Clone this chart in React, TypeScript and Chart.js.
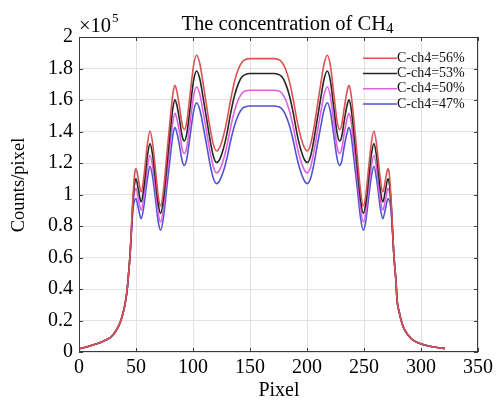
import React, { useEffect, useRef } from "react";
import { Chart, registerables } from "chart.js";

Chart.register(...registerables);

const pixels = [
  0, 8, 17, 24, 28, 32, 36, 38, 40, 42,
  43, 44, 45, 46, 47, 48, 49, 50, 52, 54.5,
  57, 58.5, 60, 62.3, 64.5, 67, 69.5, 71.6, 74, 77,
  80, 82.5, 84.2, 86, 88.3, 90.5, 92.4, 94.5, 97.5, 100.5,
  103.2, 106, 109, 112, 115, 118, 120.7, 123.5, 127, 130,
  133, 136.5, 140, 143, 146, 150,
  160.5,
  171, 175, 178, 181, 184.5, 188, 191, 194, 197.5, 200.3,
  203, 206, 209, 212, 215, 217.8, 220.5, 223.5, 226.5, 228.6,
  230.5, 232.7, 235, 236.8, 238.5, 241, 244, 247, 249.4, 251.5,
  254, 256.5, 258.7, 261, 262.5, 264, 266.5, 269, 271, 272,
  273, 274, 275, 276, 277, 278, 279, 281, 283, 285,
  289, 293, 297, 304, 313, 321,
];

const ch4_56 = [
  0.021, 0.035, 0.055, 0.078, 0.095, 0.13, 0.185, 0.23, 0.29, 0.38,
  0.455, 0.54, 0.64, 0.79, 0.94, 1.06, 1.14, 1.164, 1.10, 1.016,
  1.12, 1.22, 1.32, 1.403, 1.33, 1.165, 0.99, 0.927, 1.02, 1.25,
  1.48, 1.645, 1.693, 1.65, 1.55, 1.445, 1.412, 1.46, 1.64, 1.82,
  1.884, 1.83, 1.70, 1.56, 1.42, 1.315, 1.276, 1.30, 1.38, 1.48,
  1.60, 1.72, 1.80, 1.84, 1.857, 1.863,
  1.863,
  1.863, 1.857, 1.84, 1.80, 1.72, 1.60, 1.48, 1.38, 1.30, 1.276,
  1.315, 1.42, 1.56, 1.70, 1.83, 1.884, 1.82, 1.64, 1.46, 1.412,
  1.445, 1.55, 1.65, 1.693, 1.645, 1.48, 1.25, 1.02, 0.927, 0.99,
  1.165, 1.33, 1.403, 1.32, 1.22, 1.12, 1.016, 1.10, 1.164, 1.14,
  1.06, 0.94, 0.79, 0.64, 0.54, 0.455, 0.33, 0.25, 0.19, 0.15,
  0.105, 0.075, 0.06, 0.043, 0.03, 0.022,
];

const ch4_53 = [
  0.021, 0.035, 0.055, 0.078, 0.095, 0.13, 0.185, 0.23, 0.29, 0.38,
  0.455, 0.54, 0.64, 0.78, 0.92, 1.02, 1.08, 1.10, 1.035, 0.952,
  1.05, 1.15, 1.245, 1.323, 1.255, 1.10, 0.94, 0.879, 0.965, 1.18,
  1.40, 1.556, 1.602, 1.562, 1.47, 1.37, 1.34, 1.385, 1.552, 1.723,
  1.784, 1.733, 1.61, 1.478, 1.345, 1.24, 1.203, 1.225, 1.30, 1.395,
  1.515, 1.63, 1.707, 1.747, 1.762, 1.768,
  1.768,
  1.768, 1.762, 1.747, 1.707, 1.63, 1.515, 1.395, 1.30, 1.225, 1.203,
  1.24, 1.345, 1.478, 1.61, 1.733, 1.784, 1.723, 1.552, 1.385, 1.34,
  1.37, 1.47, 1.562, 1.602, 1.556, 1.40, 1.18, 0.965, 0.879, 0.94,
  1.10, 1.255, 1.323, 1.245, 1.15, 1.05, 0.952, 1.035, 1.10, 1.08,
  1.02, 0.92, 0.78, 0.64, 0.54, 0.455, 0.33, 0.25, 0.19, 0.15,
  0.105, 0.075, 0.06, 0.043, 0.03, 0.022,
];

const ch4_50 = [
  0.021, 0.035, 0.055, 0.078, 0.095, 0.13, 0.185, 0.23, 0.29, 0.38,
  0.455, 0.54, 0.64, 0.77, 0.90, 0.98, 1.025, 1.04, 0.975, 0.90,
  0.99, 1.08, 1.17, 1.249, 1.183, 1.037, 0.882, 0.825, 0.91, 1.12,
  1.32, 1.47, 1.515, 1.475, 1.39, 1.29, 1.26, 1.30, 1.46, 1.625,
  1.683, 1.636, 1.52, 1.395, 1.27, 1.172, 1.137, 1.158, 1.228, 1.317,
  1.427, 1.533, 1.606, 1.643, 1.657, 1.662,
  1.662,
  1.662, 1.657, 1.643, 1.606, 1.533, 1.427, 1.317, 1.228, 1.158, 1.137,
  1.172, 1.27, 1.395, 1.52, 1.636, 1.683, 1.625, 1.46, 1.30, 1.26,
  1.29, 1.39, 1.475, 1.515, 1.47, 1.32, 1.12, 0.91, 0.825, 0.882,
  1.037, 1.183, 1.249, 1.17, 1.08, 0.99, 0.90, 0.975, 1.04, 1.025,
  0.98, 0.90, 0.77, 0.64, 0.54, 0.455, 0.33, 0.25, 0.19, 0.15,
  0.105, 0.075, 0.06, 0.043, 0.03, 0.022,
];

const ch4_47 = [
  0.021, 0.035, 0.055, 0.078, 0.095, 0.13, 0.185, 0.23, 0.29, 0.38,
  0.455, 0.54, 0.64, 0.76, 0.87, 0.94, 0.965, 0.974, 0.915, 0.847,
  0.93, 1.02, 1.10, 1.179, 1.115, 0.976, 0.828, 0.773, 0.85, 1.045,
  1.235, 1.385, 1.425, 1.388, 1.305, 1.213, 1.185, 1.225, 1.375, 1.527,
  1.583, 1.538, 1.43, 1.312, 1.19, 1.10, 1.069, 1.09, 1.155, 1.238,
  1.341, 1.44, 1.509, 1.545, 1.557, 1.562,
  1.562,
  1.562, 1.557, 1.545, 1.509, 1.44, 1.341, 1.238, 1.155, 1.09, 1.069,
  1.10, 1.19, 1.312, 1.43, 1.538, 1.583, 1.527, 1.375, 1.225, 1.185,
  1.213, 1.305, 1.388, 1.425, 1.385, 1.235, 1.045, 0.85, 0.773, 0.828,
  0.976, 1.115, 1.179, 1.10, 1.02, 0.93, 0.847, 0.915, 0.974, 0.965,
  0.94, 0.87, 0.76, 0.64, 0.54, 0.455, 0.33, 0.25, 0.19, 0.15,
  0.105, 0.075, 0.06, 0.043, 0.03, 0.022,
];

const seriesLabels = ["C-ch4=56%", "C-ch4=53%", "C-ch4=50%", "C-ch4=47%"];
const seriesColors = ["#dc5252", "#262626", "#e060e0", "#5252d6"];
const xTickStep = 50;
const yTickStep = 0.2;

const SERIF = '"Liberation Serif", "Times New Roman", serif';

const decorPlugin = {
  id: "decor",
  afterDraw(chart: any) {
    const { ctx, chartArea } = chart;
    const { left, right, top, bottom } = chartArea;
    const xs = chart.scales.x;
    const ys = chart.scales.y;
    ctx.save();
    // box
    ctx.strokeStyle = "#3a3a3a";
    ctx.lineWidth = 1;
    ctx.strokeRect(left + 0.5, top + 0.5, right - left - 1, bottom - top - 1);
    // inner ticks
    ctx.beginPath();
    xs.ticks.forEach((t: any) => {
      const px = Math.round(xs.getPixelForValue(t.value)) + 0.5;
      ctx.moveTo(px, bottom);
      ctx.lineTo(px, bottom - 4);
      ctx.moveTo(px, top);
      ctx.lineTo(px, top + 4);
    });
    ys.ticks.forEach((t: any) => {
      const py = Math.round(ys.getPixelForValue(t.value)) + 0.5;
      ctx.moveTo(left, py);
      ctx.lineTo(left + 4, py);
      ctx.moveTo(right, py);
      ctx.lineTo(right - 4, py);
    });
    ctx.stroke();

    ctx.fillStyle = "#000";
    // title: "The concentration of CH" + subscript 4
    ctx.textBaseline = "alphabetic";
    ctx.textAlign = "left";
    ctx.font = `20.5px ${SERIF}`;
    const main = "The concentration of CH";
    const wMain = ctx.measureText(main).width;
    ctx.font = `15px ${SERIF}`;
    const wSub = ctx.measureText("4").width;
    const startX = 287.5 - (wMain + wSub) / 2;
    ctx.font = `20.5px ${SERIF}`;
    ctx.fillText(main, startX, 30);
    ctx.font = `15px ${SERIF}`;
    ctx.fillText("4", startX + wMain, 33);
    // exponent
    ctx.font = `20.5px ${SERIF}`;
    ctx.fillText("\u00d710", 79, 32);
    ctx.font = `13px ${SERIF}`;
    ctx.fillText("5", 112, 22);
    // x label
    ctx.font = `20px ${SERIF}`;
    ctx.textAlign = "center";
    ctx.fillText("Pixel", 279, 396);
    // y label
    ctx.save();
    ctx.translate(24, 185);
    ctx.rotate(-Math.PI / 2);
    ctx.font = `18.5px ${SERIF}`;
    ctx.fillText("Counts/pixel", 0, 0);
    ctx.restore();

    // legend
    const rowY = [58.3, 73.5, 88.8, 104.1];
    chart.data.datasets.forEach((ds: any, i: number) => {
      const y = rowY[i];
      ctx.strokeStyle = ds.borderColor;
      ctx.lineWidth = 1.5;
      ctx.beginPath();
      ctx.moveTo(363, y);
      ctx.lineTo(397, y);
      ctx.stroke();
      ctx.fillStyle = "#111";
      ctx.font = `14px ${SERIF}`;
      ctx.textAlign = "left";
      ctx.textBaseline = "middle";
      ctx.fillText(ds.label, 397, y);
    });
    ctx.restore();
  },
};

export default function App() {
  const ref = useRef<HTMLCanvasElement | null>(null);
  useEffect(() => {
    if (!ref.current) return;
    const series = [ch4_56, ch4_53, ch4_50, ch4_47];
    const chart = new Chart(ref.current, {
      type: "line",
      data: {
        datasets: series.map((ys, i) => ({
          label: seriesLabels[i],
          data: pixels.map((x, j) => ({ x, y: ys[j] })),
          borderColor: seriesColors[i],
          backgroundColor: seriesColors[i],
          borderWidth: 1.6,
          pointRadius: 0,
          fill: false,
          cubicInterpolationMode: "monotone" as const,
        })),
      },
      options: {
        responsive: false,
        animation: false,
        devicePixelRatio: 1,
        layout: { padding: { left: 0, right: 21, top: 37, bottom: 0 } },
        plugins: {
          legend: { display: false },
          tooltip: { enabled: false },
          title: { display: false },
        },
        scales: {
          x: {
            type: "linear",
            min: 0,
            max: 350,
            ticks: {
              stepSize: xTickStep,
              color: "#000",
              font: { family: SERIF, size: 20 },
              padding: 4,
              maxRotation: 0,
            },
            grid: { color: "#e2e2e2", drawTicks: false },
            border: { display: false },
            afterFit(scale: any) {
              scale.height = 49;
            },
          },
          y: {
            type: "linear",
            min: 0,
            max: 2,
            ticks: {
              stepSize: yTickStep,
              color: "#000",
              font: { family: SERIF, size: 20 },
              padding: 6,
              callback: (v: any) => String(Number(Number(v).toFixed(1))),
            },
            grid: { color: "#e2e2e2", drawTicks: false },
            border: { display: false },
            afterFit(scale: any) {
              scale.width = 79;
            },
          },
        },
      },
      plugins: [decorPlugin],
    });
    return () => chart.destroy();
  }, []);
  return (
    <div style={{ position: "absolute", left: 0, top: 0, width: 499, height: 401, background: "#fff" }}>
      <canvas ref={ref} width={499} height={401} style={{ width: 499, height: 401, display: "block" }} />
    </div>
  );
}
